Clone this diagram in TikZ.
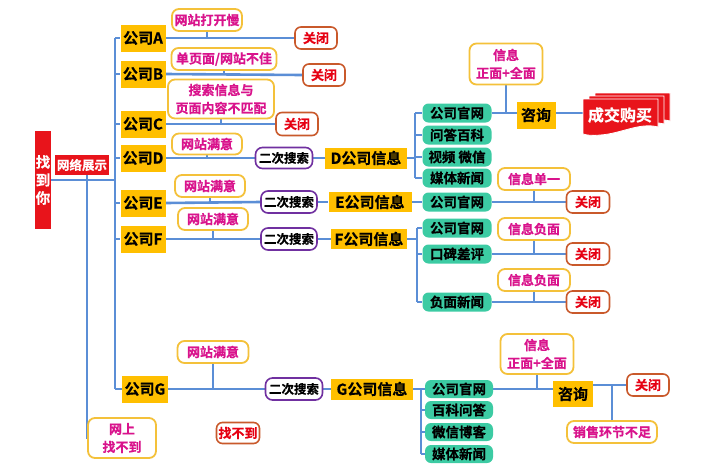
\documentclass[tikz,border=0pt]{standalone}
\usepackage{fontspec}
\setmainfont{Noto Sans CJK SC}[BoldFont={* Bold},BoldFeatures={FakeBold=0.6}]
\usetikzlibrary{calc,backgrounds}
\definecolor{bl}{HTML}{5B8ED6}
\definecolor{gold}{HTML}{FFBF00}
\definecolor{mag}{HTML}{D9138C}
\definecolor{gbord}{HTML}{F4C13A}
\definecolor{redt}{HTML}{E60012}
\definecolor{brn}{HTML}{C9592B}
\definecolor{grn}{HTML}{3CCBA3}
\definecolor{pur}{HTML}{7030A0}
\definecolor{rd}{HTML}{E8141B}
\begin{document}
\begin{tikzpicture}[x=1pt,y=-1pt,
  sz/.style 2 args={minimum width=#1pt,minimum height=#2pt},
  base/.style={inner sep=0pt,align=center,font=\bfseries\fontsize{13.5}{18}\selectfont},
  comp/.style={base,fill=gold,font=\bfseries\fontsize{15}{15}\selectfont},
  info/.style={base,fill=gold,font=\bfseries\fontsize{15}{15}\selectfont},
  pink/.style={base,draw=gbord,line width=1.8pt,fill=white,rounded corners=7pt,text=mag,font=\bfseries\fontsize{13}{18}\selectfont},
  cls/.style={base,draw=brn,line width=1.6pt,fill=white,rounded corners=6pt,text=redt,font=\bfseries\fontsize{13}{14}\selectfont},
  grbox/.style={base,fill=grn,rounded corners=6pt,sz={69}{19}},
  srch/.style={base,draw=pur,line width=1.6pt,fill=white,rounded corners=7pt,font=\bfseries\fontsize{12.5}{13}\selectfont},
  redbox/.style={base,fill=rd,text=white},
  ln/.style={draw=bl,line width=2.6pt}]
\useasboundingbox (0,0) rectangle (721,475);

% left column
\node[redbox,sz={16}{98},font=\bfseries\fontsize{14.5}{18}\selectfont] (zdn) at (43,180) {找\\到\\你};
\node[redbox,sz={54}{20},font=\bfseries\fontsize{12.5}{13}\selectfont] (wl) at (82,165) {网络展示};
\node[pink,sz={68}{40}] (nf) at (122,438) {网上\\找不到};
\coordinate (bus) at (115,0);

% companies
\node[comp,sz={45}{27}] (cA) at (143,38) {公司A};
\node[comp,sz={45}{27}] (cB) at (143,74) {公司B};
\node[comp,sz={45}{27}] (cC) at (143,124) {公司C};
\node[comp,sz={45}{27}] (cD) at (143,158) {公司D};
\node[comp,sz={45}{27}] (cE) at (143,203) {公司E};
\node[comp,sz={45}{27}] (cF) at (143,239) {公司F};
\node[comp,sz={46}{27}] (cG) at (145,389) {公司G};

% A B C
\node[pink,sz={70}{22}] (pA) at (207,20) {网站打开慢};
\node[cls,sz={42}{22}] (clA) at (316,38) {关闭};
\node[pink,sz={105}{22}] (pB) at (224,59) {单页面/网站不佳};
\node[cls,sz={42}{22}] (clB) at (324,75) {关闭};
\node[pink,sz={106}{39},font=\bfseries\fontsize{13}{18}\selectfont] (pC) at (221,99) {搜索信息与\\页面内容不匹配};
\node[cls,sz={42}{23}] (clC) at (297,124) {关闭};

% D
\node[pink,sz={70}{21}] (pD) at (207,144) {网站满意};
\node[srch,sz={57}{21}] (sD) at (284,158) {二次搜索};
\node[info,sz={82}{21}] (iD) at (366,158) {D公司信息};
\node[grbox] (gD1) at (457,113) {公司官网};
\node[grbox] (gD2) at (457,135) {问答百科};
\node[grbox] (gD3) at (457,157) {视频 微信};
\node[grbox] (gD4) at (457,178) {媒体新闻};
\coordinate (brD) at (415,0);
\node[info,sz={39}{27}] (zxD) at (536,115) {咨询};
\node[pink,sz={73}{41}] (xxD) at (506,64) {信息\\正面+全面};

% E
\node[pink,sz={70}{22}] (pE) at (210,186) {网站满意};
\node[srch,sz={56}{22}] (sE) at (289,202) {二次搜索};
\node[info,sz={83}{20}] (iE) at (370,202) {E公司信息};
\node[grbox] (gE) at (457,202) {公司官网};
\node[pink,sz={72}{22}] (xE) at (534,179) {信息单一};
\node[cls,sz={43}{22}] (clE) at (588,202) {关闭};

% F
\node[pink,sz={70}{22}] (pF) at (213,219) {网站满意};
\node[srch,sz={56}{22}] (sF) at (289,239) {二次搜索};
\node[info,sz={76}{20}] (iF) at (369,239) {F公司信息};
\coordinate (brF) at (417,0);
\node[grbox] (gF1) at (457,228) {公司官网};
\node[grbox] (gF2) at (457,254) {口碑差评};
\node[grbox] (gF3) at (457,302) {负面新闻};
\node[pink,sz={72}{22}] (xF2) at (534,229) {信息负面};
\node[cls,sz={43}{22}] (clF2) at (588,254) {关闭};
\node[pink,sz={72}{22}] (xF3) at (534,280) {信息负面};
\node[cls,sz={43}{22}] (clF3) at (588,302) {关闭};

% G
\node[pink,sz={71}{22}] (pG) at (213,352) {网站满意};
\node[srch,sz={57}{22}] (sG) at (294,389) {二次搜索};
\node[info,sz={82}{21}] (iG) at (372,389) {G公司信息};
\coordinate (brG) at (421,0);
\node[grbox,sz={68}{18}] (gG1) at (459,389) {公司官网};
\node[grbox,sz={68}{18}] (gG2) at (459,410) {百科问答};
\node[grbox,sz={68}{18}] (gG3) at (459,432) {微信博客};
\node[grbox,sz={68}{18}] (gG4) at (459,454) {媒体新闻};
\node[info,sz={40}{26}] (zxG) at (573,394) {咨询};
\node[pink,sz={73}{40}] (xxG) at (537,354) {信息\\正面+全面};
\node[cls,sz={42}{22}] (clG) at (648,385) {关闭};
\node[pink,sz={90}{22}] (xsG) at (612,432) {销售环节不足};
\node[cls,sz={43}{21}] (nfd) at (238,433) {找不到};

% banner
\foreach \dx/\dy in {12/-6,6/-3,0/0}{
  \filldraw[fill=rd,draw=white,line width=0.8pt,shift={(\dx,\dy)}]
    (583,99) -- (658,99) -- (658,127) .. controls (640,122) and (620,134) .. (600,135)
    .. controls (592,136) and (586,135) .. (583,134) -- cycle;
}
\node[base,text=white,font=\bfseries\fontsize{16}{16}\selectfont] (cj) at (620,115) {成交购买};
\coordinate (cjw) at (583,113);

% connectors
\begin{pgfonlayer}{background}
\fill[white] (0,0) rectangle (721,475);
\draw[ln] (zdn.east) -- (zdn.east -| bus);
\draw[ln] (cA.west -| bus) -- (cG.west -| bus);
\foreach \c in {cA,cB,cC,cD,cE,cF,cG} \draw[ln] (\c.west -| bus) -- (\c.west);
\draw[ln] ($(wl.south)+(5,0)$) |- (nf.west);
% A B C
\draw[ln] (cA.east) -- (clA.west);
\draw[ln] (pA.south) -- (pA.south |- cA.east);
\draw[ln] (cB.east) -- (clB.west);
\draw[ln] (pB.south) -- (pB.south |- cB.east);
\draw[ln] (cC.east) -- (clC.west);
\draw[ln] (pC.south) -- (pC.south |- cC.east);
% D
\draw[ln] (cD.east) -- (sD.west);
\draw[ln] (sD.east) -- (iD.west);
\draw[ln] (pD.south) -- (pD.south |- cD.east);
\draw[ln] (iD.east) -- (iD.east -| brD);
\draw[ln] (gD1.west -| brD) -- (gD4.west -| brD);
\foreach \g in {gD1,gD2,gD3,gD4} \draw[ln] (\g.west -| brD) -- (\g.west);
\draw[ln] (gD1.east) -- (cjw);
\draw[ln] (xxD.south) -- (xxD.south |- gD1.east);
% E
\draw[ln] (cE.east) -- (sE.west);
\draw[ln] (sE.east) -- (iE.west);
\draw[ln] (pE.south) -- (pE.south |- cE.east);
\draw[ln] (iE.east) -- (gE.west);
\draw[ln] (gE.east) -- (clE.west);
\draw[ln] (xE.south) -- (xE.south |- gE.east);
% F
\draw[ln] (cF.east) -- (sF.west);
\draw[ln] (sF.east) -- (iF.west);
\draw[ln] (pF.south) -- (pF.south |- cF.east);
\draw[ln] (iF.east) -- (iF.east -| brF);
\draw[ln] (gF1.west -| brF) -- (gF3.west -| brF);
\foreach \g in {gF1,gF2,gF3} \draw[ln] (\g.west -| brF) -- (\g.west);
\draw[ln] (gF2.east) -- (clF2.west);
\draw[ln] (xF2.south) -- (xF2.south |- gF2.east);
\draw[ln] (gF3.east) -- (clF3.west);
\draw[ln] (xF3.south) -- (xF3.south |- gF3.east);
% G
\draw[ln] (cG.east) -- (sG.west);
\draw[ln] (sG.east) -- (iG.west);
\draw[ln] (pG.south) -- (pG.south |- cG.east);
\draw[ln] (iG.east) -- (iG.east -| brG);
\draw[ln] (gG1.west -| brG) -- (gG4.west -| brG);
\foreach \g in {gG1,gG2,gG3,gG4} \draw[ln] (\g.west -| brG) -- (\g.west);
\draw[ln] (gG1.east) -- (gG1.east -| zxG.west);
\draw[ln] (xxG.south) -- (xxG.south |- gG1.east);
\draw[ln] (zxG.east |- clG.west) -- (clG.west);
\draw[ln] (xsG.north) -- (xsG.north |- clG.west);
\end{pgfonlayer}
\end{tikzpicture}
\end{document}
